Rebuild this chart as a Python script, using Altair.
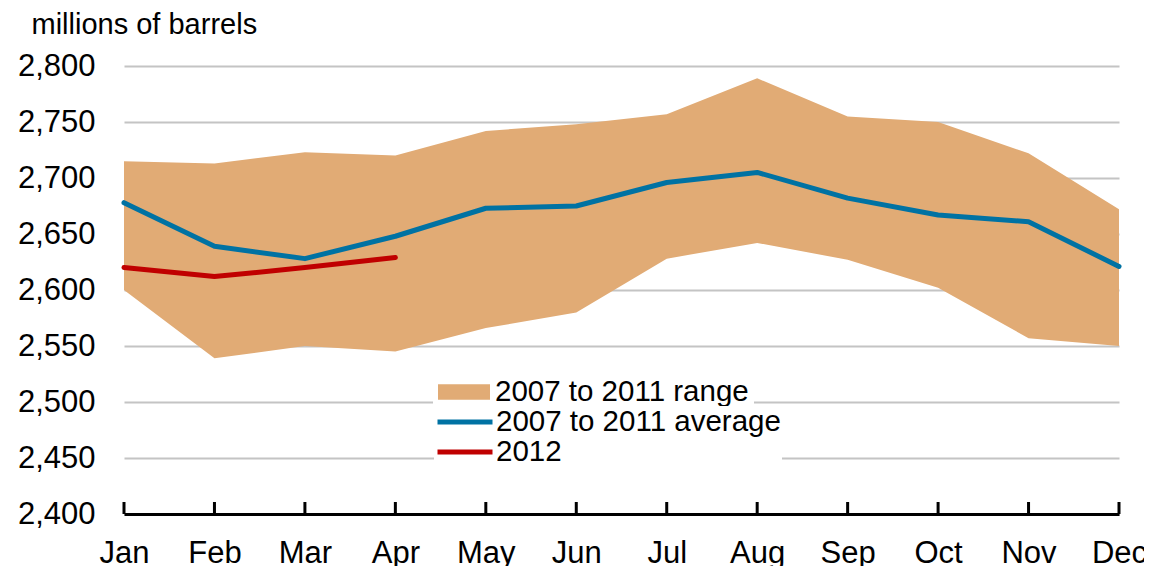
import altair as alt
import pandas as pd

months = ["Jan", "Feb", "Mar", "Apr", "May", "Jun", "Jul", "Aug", "Sep", "Oct", "Nov", "Dec"]
range_low = [2600, 2539, 2550, 2545, 2566, 2580, 2628, 2642, 2627, 2602, 2557, 2550]
range_high = [2715, 2713, 2723, 2720, 2742, 2748, 2757, 2789, 2755, 2750, 2722, 2672]
avg_0711 = [2678, 2639, 2628, 2648, 2673, 2675, 2696, 2705, 2682, 2667, 2661, 2621]
months_2012 = ["Jan", "Feb", "Mar", "Apr"]
y2012 = [2620, 2612, 2620, 2629]
y_ticks = [2400, 2450, 2500, 2550, 2600, 2650, 2700, 2750, 2800]

range_name = "2007 to 2011 range"
line_names = ["2007 to 2011 average", "2012"]

range_df = pd.DataFrame({"month": months, "low": range_low, "high": range_high,
                         "series": [range_name] * len(months)})
line_df = pd.DataFrame({
    "month": months + months_2012,
    "value": avg_0711 + y2012,
    "series": [line_names[0]] * len(months) + [line_names[1]] * len(months_2012),
})
tick_df = pd.DataFrame({"month": months})

W, H = 995, 448
FONT = "Liberation Sans"

x_enc = alt.X(
    "month:O", sort=months,
    scale=alt.Scale(type="point", padding=0, domain=months),
    axis=alt.Axis(title=None, labelAngle=0, labelFontSize=31, labelFont=FONT,
                  labelColor="black", ticks=False, tickSize=0, labelPadding=24,
                  domainColor="black", domainWidth=3, grid=False),
)
y_scale = alt.Scale(domain=[2400, 2800], nice=False, zero=False)
y_axis = alt.Axis(
    title="millions of barrels", titleAngle=0, titleX=-93, titleY=-33,
    titleAlign="left", titleBaseline="alphabetic", titleFontSize=29,
    titleFontWeight="normal", titleFont=FONT, titleColor="black",
    values=y_ticks, labelExpr="format(datum.value, ',.0f')", labelFontSize=31, labelFont=FONT,
    labelColor="black", labelPadding=29, ticks=False, tickSize=0,
    domain=False, grid=True, gridColor="#c4c4c4", gridWidth=2,
)

LEG_FONT = 29.5

area = alt.Chart(range_df).mark_area(opacity=1).encode(
    x=x_enc,
    y=alt.Y("low:Q", scale=y_scale, axis=y_axis),
    y2="high:Q",
    fill=alt.Fill("series:N",
                  scale=alt.Scale(domain=[range_name], range=["#E1AB75"]),
                  legend=alt.Legend(title=None, orient="none", legendX=309, legendY=306,
                                    symbolType="M-1,-0.3H1V0.3H-1Z", symbolSize=2704,
                                    symbolStrokeWidth=0, labelFontSize=LEG_FONT, labelFont=FONT,
                                    labelColor="black", labelOffset=5, labelLimit=600,
                                    clipHeight=30, padding=5, fillColor="white")),
)

lines = alt.Chart(line_df).mark_line(strokeWidth=5, strokeCap="round", strokeJoin="round").encode(
    x=x_enc,
    y=alt.Y("value:Q", scale=y_scale),
    stroke=alt.Stroke("series:N",
                      scale=alt.Scale(domain=line_names, range=["#0072A3", "#C00000"]),
                      legend=alt.Legend(title=None, orient="none", legendX=310, legendY=340,
                                        symbolType="stroke", symbolSize=3025,
                                        symbolStrokeWidth=5, labelFontSize=LEG_FONT, labelFont=FONT,
                                        labelColor="black", labelOffset=1, labelLimit=600,
                                        clipHeight=30, padding=1, fillColor="white",
                                        rowPadding=0)),
)

ticks = alt.Chart(tick_df).mark_rule(color="black", strokeWidth=3).encode(
    x=x_enc,
    y=alt.value(H - 12),
    y2=alt.value(H),
)

chart = alt.layer(area, lines, ticks).resolve_legend(fill="independent", stroke="independent").properties(
    width=W, height=H,
    autosize=alt.AutoSizeParams(type="none"),
    padding={"left": 116, "top": 58, "right": 25, "bottom": 62},
    background="white",
).configure_view(stroke=None)

chart.save("out.html", embed_options={"renderer": "svg", "actions": False})
